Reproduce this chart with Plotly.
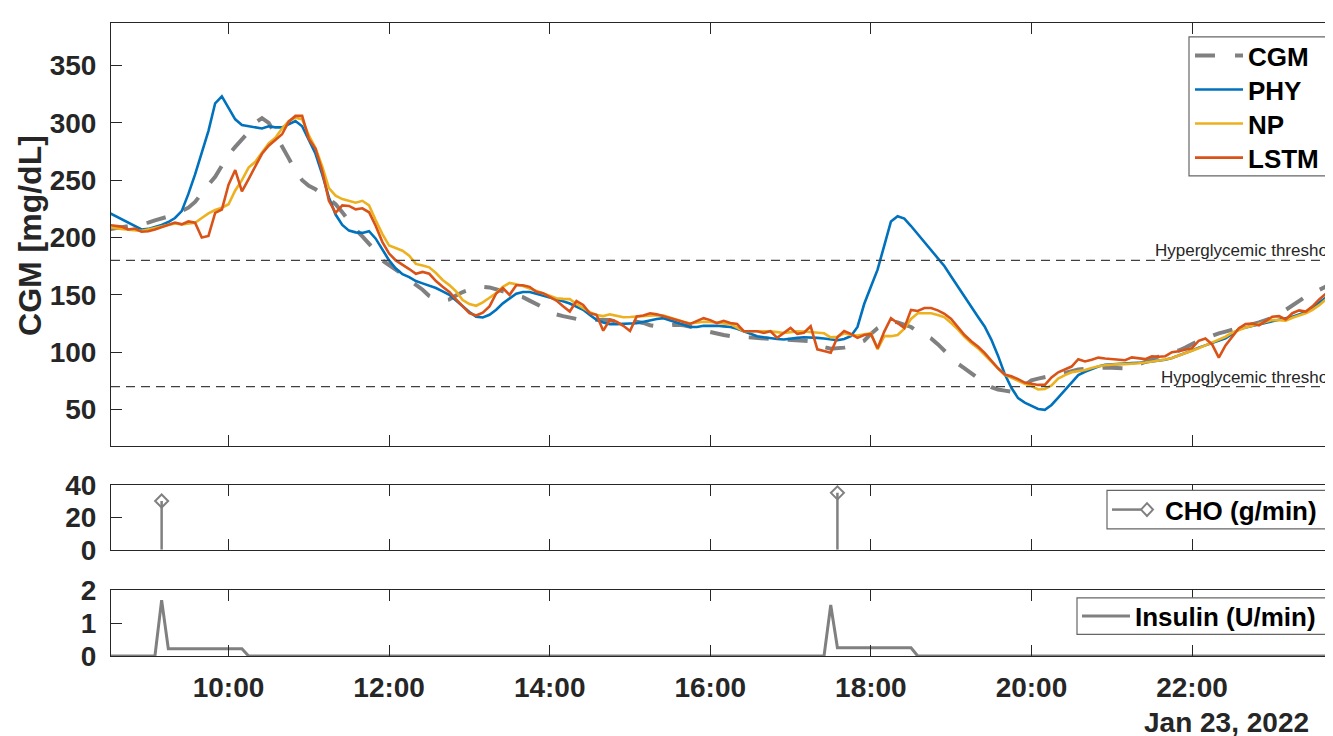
import pandas as pd
import plotly.graph_objects as go

# ---------------- data (5-min grid, Jan 23 2022, 08:30 .. 23:50) ----------------
times = pd.date_range("2022-01-23 08:30", "2022-01-23 23:50", freq="5min")

cgm = [207, 208, 209, 210, 211, 212,
       213, 215, 216.5, 218, 220, 223, 226, 231, 239, 246, 253, 262,
       272, 279, 285, 292, 300, 304, 300, 290, 280, 269, 258, 250,
       245, 242, 238, 234, 229, 222, 214, 207, 201, 195, 188, 180,
       176, 172.5, 168, 163, 159, 154.5, 149, 146.5, 145, 146, 149.5, 152.5,
       154.5, 156, 157, 156.5, 155, 153.5, 151.5, 149.5, 148, 145, 142, 139,
       136, 133, 131.5, 130, 129, 128.5, 128.5, 128.5, 128.5, 128, 126.5, 125.5,
       125.5, 126.5, 125.5, 123.5, 122.5, 123, 123.8, 124, 123.5, 122.5, 121, 119,
       117.5, 116, 115, 114, 113.5, 113, 112.5, 112, 111.5, 111.5, 111.3, 111.1,
       111, 110.5, 110, 109.5, 107, 104.5, 103, 103.3, 104, 105.5, 107.5, 110,
       116, 121, 124.5, 127, 126, 124, 122, 118, 114.5, 112, 107, 101.5,
       95, 90, 86, 81.5, 77.5, 73, 69.5, 67.5, 66.5, 65.5, 67, 71.5,
       75.5, 77, 78.5, 79.5, 80.5, 82, 84, 85, 85.5, 86, 86.5, 86.7,
       86.5, 86, 86, 87, 89, 91.5, 94, 96.5, 98.5, 100, 101.5, 104,
       107, 110, 112, 114.5, 116.5, 118, 119.5, 121, 123, 124.5, 126, 128,
       130, 133, 137, 141, 145, 148.5, 151.5, 154.5, 157.5, 160, 162]

phy = [222, 219, 216, 213, 210, 207,
       207.5, 209, 211, 213.5, 217, 223, 238, 255, 275, 293, 317, 323,
       313, 303, 298, 297, 295.5, 295, 297, 296, 296, 299, 301.5, 297,
       285, 273, 255, 235, 220, 211, 206, 204.5, 204, 205.5, 199, 190,
       180, 173, 168, 165.5, 162, 160, 158, 156, 153, 150, 145, 140,
       135, 131, 130.3, 132.6, 137, 142.6, 147, 151, 152.5, 152.5, 151, 149.5,
       148, 146.5, 144.5, 142.5, 140, 137, 132.5, 128.3, 126, 124.5, 124.5, 124.5,
       125, 125.3, 126.5, 128, 129, 129.7, 128, 126, 124, 122, 122, 123,
       123.3, 123.1, 122.5, 122, 120.5, 118.3, 116, 114, 113, 112, 111.5, 111.1,
       112, 112.5, 113, 113, 112.5, 112, 111, 110.5, 111.5, 114, 122, 142,
       157, 172, 193, 214, 218.6, 216.5, 210, 203, 197, 190, 183, 175,
       166, 157, 148, 140, 131, 122.5, 111, 97, 81, 69, 60, 56,
       53.5, 50.5, 49.8, 54, 60.5, 67, 74, 80, 83, 85.5, 87.5, 89,
       89.5, 90, 90.2, 90.5, 90.8, 91, 92, 92.7, 93.5, 95, 97, 99,
       101.5, 104, 106, 108, 110, 112, 116, 120, 121.5, 123, 124.5, 125.8,
       127, 128.3, 129.5, 131, 133, 135, 139, 143, 147.5, 152, 156]

np_pred = [209, 208, 207.5, 206.8, 206.3, 205.8,
           207, 208.3, 209.5, 211, 212.3, 211.5, 212, 212.9, 217, 221, 224, 226,
           229, 241, 250, 261, 266, 274, 282, 287, 295, 301.5, 304.5, 303,
           289, 278, 262, 243, 236.5, 233.5, 232, 230.3, 232, 228, 215, 203,
           193, 190.5, 188.5, 184.2, 177, 175.5, 174, 169, 163, 158.5, 153, 145.5,
           142, 140.5, 143.5, 147.5, 151.5, 157, 160.4, 159.2, 157.8, 155.5, 153.3, 151.2,
           149, 147, 146.5, 146.3, 142, 138.5, 135, 132.5, 131.5, 133, 131.7, 130.5,
           130.7, 131.1, 131.8, 132.5, 132.3, 132, 130, 128.3, 126.5, 125, 125.5, 126.5,
           126.3, 125.6, 125, 124.5, 121.5, 118.3, 118.3, 118.3, 118.3, 118.3, 117.5, 116.8,
           117.5, 118.3, 118, 117.7, 117.2, 116.5, 113, 113.5, 116.5, 115, 114.5, 115.4,
           116.5, 102.5, 114, 114, 115, 120.5, 129, 134, 134, 134, 132.5, 130.5,
           125.5, 120, 113.5, 108, 103.5, 97.5, 92, 86, 80.5, 77.5, 75, 72.5,
           70.5, 67.5, 68, 71, 77, 80, 82.5, 83.5, 84.5, 86.3, 87.8, 88.6,
           89.2, 89.6, 89.6, 89.8, 90.4, 91.1, 91.8, 92.5, 93.7, 95, 97, 99,
           101.2, 103.5, 106, 108.3, 111, 113.5, 117, 119.5, 121.5, 123, 124.5, 126,
           128, 128, 127.5, 130, 132, 134, 137, 141, 146, 151, 155]

lstm = [211, 210.5, 209.5, 207, 207.8, 205,
        205.5, 207, 209, 211, 213, 211.5, 214, 213, 200, 201.4, 221.5, 224.4,
        246, 258.8, 240.2, 251, 262, 273, 280, 285, 290, 301, 306, 306,
        286, 277.4, 258, 232, 221.5, 228, 227.5, 224.5, 225.5, 222, 210, 196,
        186, 180, 176.5, 172.5, 168.4, 170, 168.4, 162, 157, 152.6, 146, 140,
        134, 132, 134.5, 140, 151.2, 156, 150, 158.4, 158.4, 157, 152.6, 151.5,
        148.5, 145, 140, 135.5, 144.6, 141.2, 134, 132.6, 118.8, 128.3, 126.5, 123,
        118.5, 131.1, 132, 134, 133, 131.5, 129.7, 128, 126.3, 124.7, 127, 129.7,
        128, 125.4, 127.4, 125.5, 124.6, 118.3, 118.3, 118.3, 116.8, 118.3, 112.5, 117,
        121.1, 116, 117, 122.6, 102.5, 101, 99.6, 113, 118.5, 116, 112.5, 115,
        116, 103.5, 118, 129.7, 125, 121.1, 136.9, 136, 138.5, 138.5, 136.5, 133.5,
        129, 122, 115, 109.5, 105, 99.5, 93, 86, 80.5, 79, 76.5, 73.5,
        72.5, 71.5, 71.5, 78, 82.5, 85.3, 87.5, 93.9, 92, 93.5, 95.3, 94.5,
        93.8, 93.4, 93, 95.5, 95, 94, 96.5, 96, 96.5, 100, 100.8, 102,
        103.5, 110, 112, 106.8, 95.3, 106, 114, 121, 124.5, 125, 123.5, 127,
        131, 131.5, 128.5, 134, 136.5, 135.5, 140, 146, 151, 156, 159]

cho_times = ["2022-01-23 09:10", "2022-01-23 17:35"]
cho_vals = [30, 35]

ins_times = ["2022-01-23 08:30", "2022-01-23 09:05", "2022-01-23 09:10", "2022-01-23 09:15",
             "2022-01-23 10:10", "2022-01-23 10:15", "2022-01-23 17:25", "2022-01-23 17:30",
             "2022-01-23 17:35", "2022-01-23 18:30", "2022-01-23 18:35", "2022-01-23 23:50"]
ins_vals = [0, 0, 1.7, 0.22, 0.22, 0, 0, 1.55, 0.25, 0.25, 0, 0]

hyper_thr = 180
hypo_thr = 70
main_ticks = [50, 100, 150, 200, 250, 300, 350]
cho_ticks = [0, 20, 40]
ins_ticks = [0, 1, 2]

# ---------------- layout geometry ----------------
# Positions below are given in window pixels; the page body adds an 8px margin,
# so the figure itself is shifted by OFF.
OFF = 8
WIN_W, WIN_H = 1333, 736
W, H = WIN_W - OFF, WIN_H - OFF
AX_L, AX_T, AX_B = 111, 14, 656           # window pixels: plot-area left/top/bottom
L, T, B = AX_L - OFF, AX_T - OFF, H - (AX_B - OFF)
R = 0
PW, PH = W - L - R, H - T - B


def px(x):
    return (x - OFF - L) / PW


def py(y):
    return (H - B - (y - OFF)) / PH


main_dom = [py(443.3), py(14)]
cho_dom = [py(548.3), py(482.3)]
ins_dom = [py(656), py(589.3)]

FONT = "Liberation Sans, Arial, sans-serif"
AX = "#262626"
GRAY = "#808080"
x_range = ["2022-01-23 08:32:10", "2022-01-23 23:45:20"]

fig = go.Figure()

# main traces
fig.add_trace(go.Scatter(x=times, y=cgm, mode="lines", name="CGM",
                         line=dict(color=GRAY, width=4, dash="20px,19px"), showlegend=False))
fig.add_trace(go.Scatter(x=times, y=phy, mode="lines", name="PHY",
                         line=dict(color="#0072BD", width=2.6), showlegend=False))
fig.add_trace(go.Scatter(x=times, y=np_pred, mode="lines", name="NP",
                         line=dict(color="#EDB120", width=2.6), showlegend=False))
fig.add_trace(go.Scatter(x=times, y=lstm, mode="lines", name="LSTM",
                         line=dict(color="#D95319", width=2.6), showlegend=False))

# CHO stems
stem_x, stem_y = [], []
for t, v in zip(cho_times, cho_vals):
    stem_x += [t, t, None]
    stem_y += [0, v, None]
fig.add_trace(go.Scatter(x=stem_x, y=stem_y, mode="lines", xaxis="x2", yaxis="y2",
                         line=dict(color=GRAY, width=2.5), showlegend=False))
fig.add_trace(go.Scatter(x=cho_times, y=cho_vals, mode="markers", xaxis="x2", yaxis="y2",
                         marker=dict(symbol="diamond-open", size=10, color=GRAY,
                                     line=dict(width=2, color=GRAY)),
                         showlegend=False, cliponaxis=False))

# insulin
fig.add_trace(go.Scatter(x=ins_times, y=ins_vals, mode="lines", xaxis="x3", yaxis="y3",
                         line=dict(color=GRAY, width=3), showlegend=False))

# dummy traces for right-side tick axes
for xa, ya in [("x", "y4"), ("x2", "y5"), ("x3", "y6")]:
    fig.add_trace(go.Scatter(x=[None], y=[None], xaxis=xa, yaxis=ya,
                             showlegend=False, hoverinfo="skip"))

tickfont = dict(family=FONT, size=28, color=AX, weight="bold")

xcommon = dict(type="date", range=x_range, showline=True, linecolor=AX, linewidth=1,
               mirror="ticks", ticks="inside", ticklen=11, tickcolor=AX,
               tick0="2022-01-23 10:00", dtick=2 * 3600 * 1000, tickformat="%H:%M",
               showgrid=False, zeroline=False, tickfont=tickfont)
ycommon = dict(showline=True, linecolor=AX, linewidth=1, mirror=False,
               ticks="inside", ticklen=11, tickcolor=AX, showgrid=False,
               zeroline=False, tickfont=tickfont, ticklabelstandoff=8)
yright = dict(side="right", showline=False, ticks="inside", ticklen=7,
              tickcolor=AX, showticklabels=False, showgrid=False, zeroline=False)

fig.update_layout(
    width=W, height=H, margin=dict(l=L, r=R, t=T, b=B),
    paper_bgcolor="white", plot_bgcolor="white",
    font=dict(family=FONT, color=AX),
    xaxis=dict(xcommon, domain=[0, 1], anchor="y", showticklabels=False),
    xaxis2=dict(xcommon, domain=[0, 1], anchor="y2", showticklabels=False, matches="x"),
    xaxis3=dict(xcommon, domain=[0, 1], anchor="y3", showticklabels=True, matches="x",
                ticklabelstandoff=6),
    yaxis=dict(ycommon, domain=main_dom, anchor="x", range=[18, 387], tickvals=main_ticks),
    yaxis2=dict(ycommon, domain=cho_dom, anchor="x2", range=[0, 40], tickvals=cho_ticks),
    yaxis3=dict(ycommon, domain=ins_dom, anchor="x3", range=[0, 2], tickvals=ins_ticks),
    yaxis4=dict(yright, overlaying="y", anchor="x", range=[18, 387], tickvals=main_ticks),
    yaxis5=dict(yright, overlaying="y2", anchor="x2", range=[0, 40], tickvals=cho_ticks),
    yaxis6=dict(yright, overlaying="y3", anchor="x3", range=[0, 2], tickvals=ins_ticks),
)

shapes = []
annos = []

# threshold lines
for thr in (hyper_thr, hypo_thr):
    shapes.append(dict(type="line", xref="x domain", yref="y", x0=0, x1=1, y0=thr, y1=thr,
                       line=dict(color="#404040", width=1.2, dash="9px,6px"), layer="above"))
annos.append(dict(text="Hyperglycemic threshold", xref="paper", yref="y", x=px(1343), y=hyper_thr,
                  xanchor="right", yanchor="bottom", showarrow=False, yshift=-2,
                  font=dict(family=FONT, size=17, color=AX)))
annos.append(dict(text="Hypoglycemic threshold", xref="paper", yref="y", x=px(1343), y=hypo_thr,
                  xanchor="right", yanchor="bottom", showarrow=False, yshift=-2,
                  font=dict(family=FONT, size=17, color=AX)))

legfont = dict(family=FONT, size=26, color="black", weight="bold")


def rect(x0, y0, x1, y1):
    shapes.append(dict(type="rect", xref="paper", yref="paper", x0=px(x0), x1=px(x1),
                       y0=py(y1), y1=py(y0), fillcolor="white",
                       line=dict(color="#666666", width=1.2), layer="above"))


def hline(x0, x1, y, color, width, dash="solid"):
    shapes.append(dict(type="line", xref="paper", yref="paper", x0=px(x0), x1=px(x1),
                       y0=py(y), y1=py(y), line=dict(color=color, width=width, dash=dash),
                       layer="above"))


def label(text, x, y):
    annos.append(dict(text=text, xref="paper", yref="paper", x=px(x), y=py(y),
                      xanchor="left", yanchor="middle", showarrow=False, font=legfont))


# main legend
rect(1189, 28, 1326, 169)
leg_items = [("CGM", GRAY, 4, "20px,20px", 47), ("PHY", "#0072BD", 2.6, "solid", 81.5),
             ("NP", "#EDB120", 2.6, "solid", 116), ("LSTM", "#D95319", 2.6, "solid", 150.5)]
for name, col, w, d, yy in leg_items:
    hline(1195, 1243, yy, col, w, d)
    label(name, 1246, yy + 1)

# CHO legend
rect(1107, 488, 1326, 527)
hline(1112, 1141, 507.5, GRAY, 2.5)
cx, cy, hw, hh = 1147, 507.5, 6, 6.5
shapes.append(dict(type="path", xref="paper", yref="paper",
                   path=f"M {px(cx - hw)} {py(cy)} L {px(cx)} {py(cy - hh)} L {px(cx + hw)} {py(cy)} "
                        f"L {px(cx)} {py(cy + hh)} Z",
                   line=dict(color=GRAY, width=2), fillcolor="rgba(0,0,0,0)", layer="above"))
label("CHO (g/min)", 1163, 508.5)

# insulin legend
rect(1077, 597, 1326, 634)
hline(1082, 1130, 615.5, GRAY, 3)
label("Insulin (U/min)", 1133, 616.5)

# y title and date label
annos.append(dict(text="CGM [mg/dL]", xref="paper", yref="paper", x=px(30), y=py(230),
                  xanchor="center", yanchor="middle", textangle=-90, showarrow=False,
                  font=dict(family=FONT, size=32, color=AX, weight="bold")))
annos.append(dict(text="Jan 23, 2022", xref="paper", yref="paper", x=px(1226), y=py(723),
                  xanchor="center", yanchor="middle", showarrow=False,
                  font=dict(family=FONT, size=28, color=AX, weight="bold")))

fig.update_layout(shapes=shapes, annotations=annos)
fig.write_html("out.html")
